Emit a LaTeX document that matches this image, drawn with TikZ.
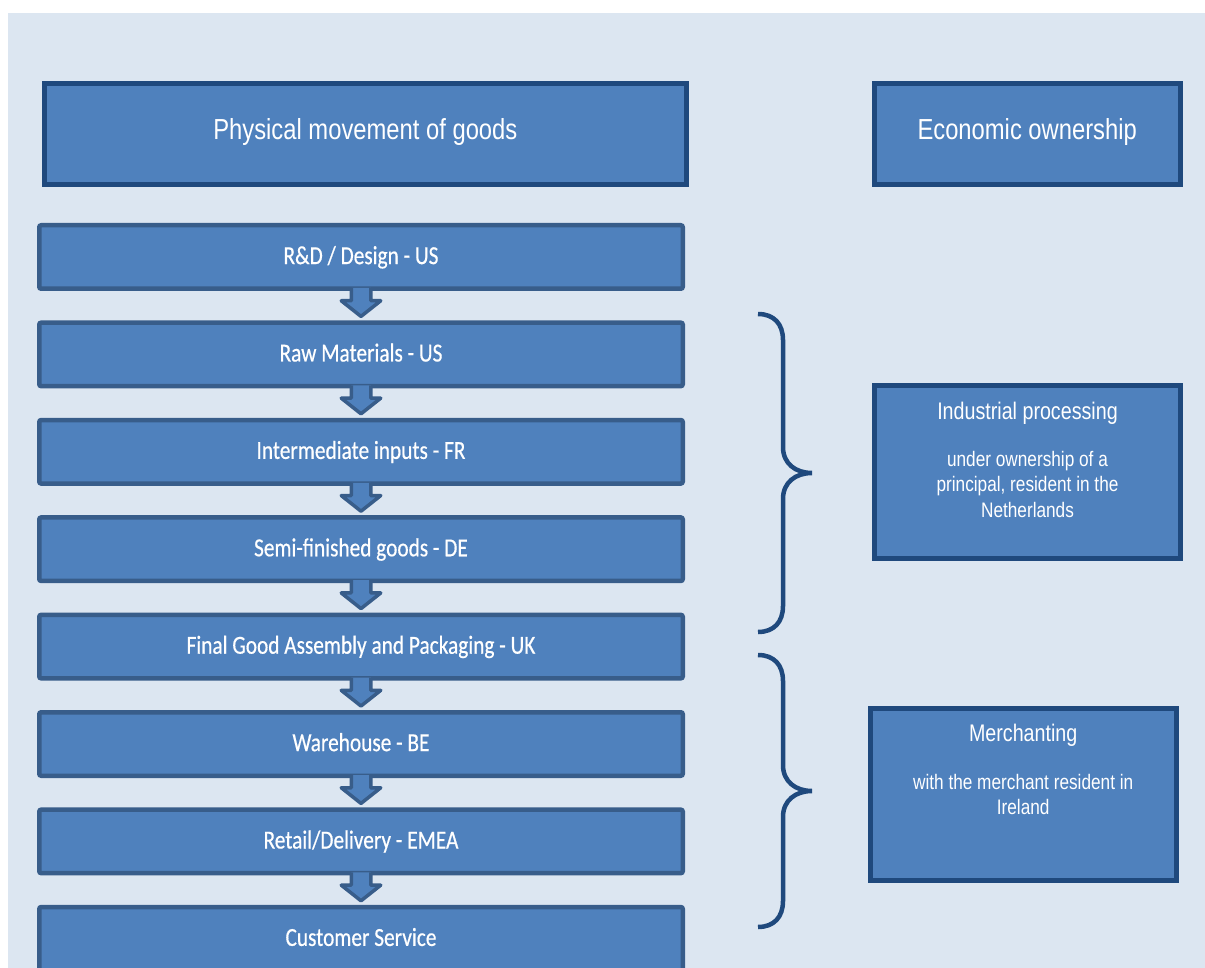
\documentclass[tikz,border=0pt]{standalone}
\usepackage{fontspec}
\usetikzlibrary{calc}
\newfontfamily\stepfont[FakeStretch=0.82,FakeBold=0.5]{Carlito}
\newfontfamily\hdrfont[FakeStretch=0.82]{Liberation Sans}
\definecolor{bgblue}{HTML}{DCE6F1}
\definecolor{fillblue}{HTML}{4F81BD}
\definecolor{stepline}{HTML}{385D8A}
\definecolor{darkline}{HTML}{1F497D}
\tikzset{
  stepbox/.style={draw=stepline, fill=fillblue, line width=4.5pt, rounded corners=2pt,
    minimum width=643.5pt, minimum height=63.5pt, inner sep=0pt, text=white,
    font=\stepfont\fontsize{26}{30}\selectfont, text height=16.7pt, text depth=2.5pt},
  hdrbox/.style={draw=darkline, fill=fillblue, line width=5pt, inner sep=0pt, text=white,
    font=\hdrfont\fontsize{29}{34}\selectfont, text height=20.8pt, text depth=10.2pt,
    minimum height=100.7pt},
  ownbox/.style={draw=darkline, fill=fillblue, line width=5pt, inner sep=0pt,
    minimum width=306.3pt, minimum height=172.2pt},
  owntitle/.style={text=white, inner sep=0pt, anchor=base, font=\hdrfont\fontsize{24}{28}\selectfont},
  ownsub/.style={text=white, inner sep=0pt, anchor=base, font=\hdrfont\fontsize{21}{25}\selectfont},
  flowarrow/.style={draw=stepline, line width=3.5pt, line join=round},
  bracket/.style={draw=darkline, line width=4.5pt}
}
\begin{document}
\begin{tikzpicture}[x=1pt,y=-1pt]
\useasboundingbox (0,0) rectangle (1205,968);
\clip (0,0) rectangle (1205,968);
\fill[white] (0,0) rectangle (1205,968);
\fill[bgblue] (8,12.7) rectangle (1205,968);

% headers
\node[hdrbox, minimum width=641.7pt] (h1) at (365.35,133.85) {Physical movement of goods};
\node[hdrbox, minimum width=306pt] (h2) at (1027.2,133.85) {Economic ownership};

% steps
\node[stepbox] (s1) at (361,257) {R\&D / Design - US};
\node[stepbox] (s2) at (361,354.4) {Raw Materials - US};
\node[stepbox] (s3) at (361,451.8) {Intermediate inputs - FR};
\node[stepbox] (s4) at (361,549.2) {Semi-finished goods - DE};
\node[stepbox] (s5) at (361,646.6) {Final Good Assembly and Packaging - UK};
\node[stepbox] (s6) at (361,744) {Warehouse - BE};
\node[stepbox] (s7) at (361,841.4) {Retail/Delivery - EMEA};
\node[stepbox] (s8) at (361,938.8) {Customer Service};

% block arrows between steps
\foreach \src/\dst in {s1/s2,s2/s3,s3/s4,s4/s5,s5/s6,s6/s7,s7/s8}{
  \fill[fillblue] ($(\src.south)+(-9.75,-3)$) -- ($(\src.south)+(-9.75,9.75)$)
    -- ($(\src.south)+(-19.75,9.75)$) -- ($(\dst.north)+(0,-4)$)
    -- ($(\src.south)+(19.75,9.75)$) -- ($(\src.south)+(9.75,9.75)$)
    -- ($(\src.south)+(9.75,-3)$) -- cycle;
  \draw[flowarrow] ($(\src.south)+(-9.75,-3)$) -- ($(\src.south)+(-9.75,9.75)$)
    -- ($(\src.south)+(-19.75,9.75)$) -- ($(\dst.north)+(0,-4)$)
    -- ($(\src.south)+(19.75,9.75)$) -- ($(\src.south)+(9.75,9.75)$)
    -- ($(\src.south)+(9.75,-3)$);
}

% braces
\draw[bracket] (758,314) .. controls (774,314) and (783,324) .. (783,340) -- (783,447)
  .. controls (783,464) and (796,473) .. (812,473)
  .. controls (796,473) and (783,482) .. (783,499) -- (783,606)
  .. controls (783,622) and (774,632) .. (758,632);
\draw[bracket] (758,655) .. controls (774,655) and (783,665) .. (783,681) -- (783,765)
  .. controls (783,782) and (796,791) .. (812,791)
  .. controls (796,791) and (783,800) .. (783,817) -- (783,901)
  .. controls (783,917) and (774,927) .. (758,927);

% ownership boxes
\node[ownbox] (ind) at (1027.5,472) {};
\node[owntitle] (indt) at ($(ind.north)+(0,36)$) {Industrial processing};
\node[ownsub] (inda) at ($(ind.north)+(0,83.5)$) {under ownership of a};
\node[ownsub] (indb) at ($(ind.north)+(0,108.3)$) {principal, resident in the};
\node[ownsub] (indc) at ($(ind.north)+(0,133.8)$) {Netherlands};

\node[ownbox, minimum width=306pt, minimum height=172pt] (mer) at (1023.2,794.2) {};
\node[owntitle] (mert) at ($(mer.north)+(0,35.4)$) {Merchanting};
\node[ownsub] (mera) at ($(mer.north)+(0,83.6)$) {with the merchant resident in};
\node[ownsub] (merb) at ($(mer.north)+(0,108.6)$) {Ireland};
\end{tikzpicture}
\end{document}
